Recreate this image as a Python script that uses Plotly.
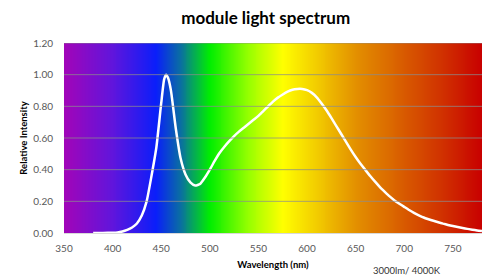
import numpy as np
import plotly.graph_objects as go

# spectrum data (wavelength nm, relative intensity)
wavelength = [380, 385, 390, 395, 400, 405, 410, 415, 420, 425, 430, 435, 440, 445, 450, 453, 455, 457,
              460, 465, 470, 475, 480, 485, 490, 495, 500, 505, 510, 515, 520, 525, 530, 535, 540, 545,
              550, 555, 560, 565, 570, 575, 580, 585, 590, 595, 600, 605, 610, 615, 620, 625, 630, 635,
              640, 645, 650, 655, 660, 665, 670, 675, 680, 685, 690, 695, 700, 705, 710, 715, 720, 725,
              730, 735, 740, 745, 750, 755, 760, 765, 770, 775, 780]
intensity = [0.000, 0.000, 0.000, 0.001, 0.002, 0.004, 0.010, 0.020, 0.035, 0.060, 0.110, 0.200, 0.360,
             0.540, 0.820, 0.970, 1.000, 0.980, 0.900, 0.660, 0.470, 0.370, 0.320, 0.300, 0.310, 0.350,
             0.400, 0.455, 0.505, 0.545, 0.580, 0.612, 0.640, 0.665, 0.690, 0.715, 0.740, 0.770, 0.800,
             0.830, 0.855, 0.875, 0.893, 0.905, 0.910, 0.910, 0.902, 0.885, 0.857, 0.818, 0.775, 0.727,
             0.677, 0.627, 0.577, 0.527, 0.480, 0.437, 0.398, 0.360, 0.324, 0.290, 0.260, 0.231, 0.206,
             0.185, 0.165, 0.145, 0.127, 0.112, 0.098, 0.087, 0.077, 0.068, 0.059, 0.051, 0.044, 0.038,
             0.032, 0.026, 0.021, 0.016, 0.012]

x_ticks = [350, 400, 450, 500, 550, 600, 650, 700, 750]
y_ticks = [0.0, 0.2, 0.4, 0.6, 0.8, 1.0, 1.2]
y_tick_labels = ["0.00", "0.20", "0.40", "0.60", "0.80", "1.00", "1.20"]

# background rainbow (wavelength -> colour)
rainbow_wl = [350, 400, 445, 470, 500, 540, 575, 610, 650, 700, 740, 780]
rainbow_col = ["#a205b8", "#6015dc", "#0a1efa", "#0a70a0", "#00ee00", "#98ff00", "#ffff00",
               "#f2cc00", "#e39000", "#d85a00", "#d03000", "#c80000"]

X_MIN, X_MAX = 350, 780
Y_MIN, Y_MAX = 0, 1.2

colorscale = [[(w - X_MIN) / (X_MAX - X_MIN), c] for w, c in zip(rainbow_wl, rainbow_col)]
edges = np.arange(X_MIN, X_MAX + 1, 1.0)
centers = (edges[:-1] + edges[1:]) / 2

FONT = "Lato"
TICK_COLOR = "#595959"

fig = go.Figure()
fig.add_trace(go.Heatmap(
    x=edges, y=[Y_MIN, Y_MAX], z=[centers],
    colorscale=colorscale, zmin=X_MIN, zmax=X_MAX,
    showscale=False, hoverinfo="skip"))
fig.add_trace(go.Scatter(
    x=wavelength, y=intensity, mode="lines",
    line=dict(color="white", width=2.5, shape="spline", smoothing=0.5),
    showlegend=False))

for yv in y_ticks[1:]:
    fig.add_shape(type="line", xref="x", yref="y", x0=X_MIN, x1=X_MAX, y0=yv, y1=yv,
                  line=dict(color="rgba(140,140,140,0.75)", width=1), layer="above")

fig.update_layout(
    width=492, height=275,
    margin=dict(l=63.6, r=9.5, t=43.3, b=42.3, autoexpand=False),
    paper_bgcolor="white", plot_bgcolor="white",
    title=dict(text="<b>module light spectrum</b>", x=0.54, xanchor="center", y=0.935,
               yanchor="middle", automargin=False,
               font=dict(family=FONT, size=17, color="#000000")),
    xaxis=dict(range=[X_MIN, X_MAX], tickvals=x_ticks, showgrid=False, zeroline=False,
               showline=True, linecolor="#d9d9d9", linewidth=1, ticks="", automargin=False,
               ticklabelstandoff=6,
               tickfont=dict(family=FONT, size=10, color=TICK_COLOR),
               title=dict(text="<b>Wavelength (nm)</b>", standoff=8,
                          font=dict(family=FONT, size=9.5, color="#000000"))),
    yaxis=dict(range=[Y_MIN, Y_MAX], tickvals=y_ticks, ticktext=y_tick_labels, showgrid=False,
               zeroline=False, showline=False, ticks="", ticklabelstandoff=10, automargin=False,
               tickfont=dict(family=FONT, size=10, color=TICK_COLOR),
               title=dict(text="<b>Relative Intensity</b>", standoff=3,
                          font=dict(family=FONT, size=9.5, color="#000000"))),
    annotations=[dict(text="3000lm/ 4000K", xref="paper", yref="paper", x=0.82, y=-0.197,
                      xanchor="center", yanchor="middle", showarrow=False,
                      font=dict(family=FONT, size=9.5, color="#333333"))],
)

fig.write_html("out.html", config={"displayModeBar": False},
               post_script="document.body.style.margin='0';")
